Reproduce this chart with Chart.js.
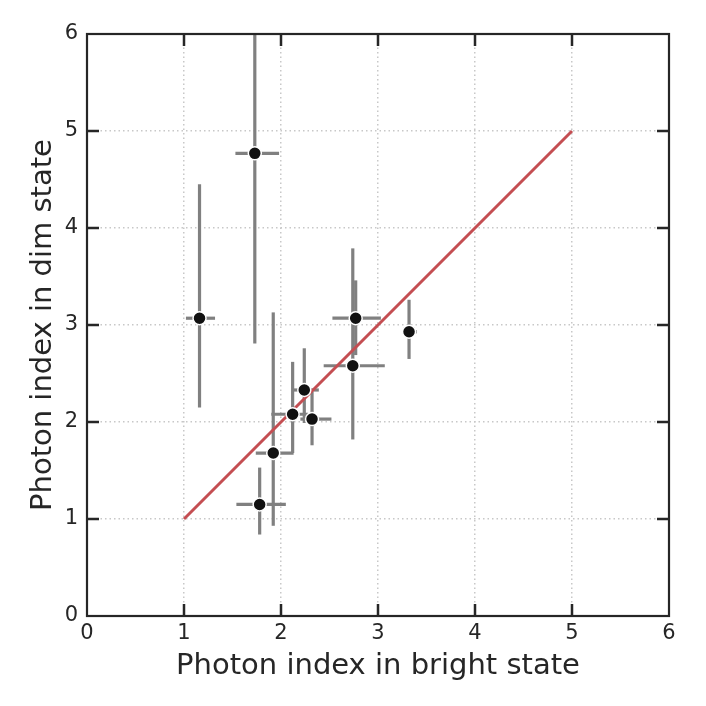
<!DOCTYPE html>
<html>
<head>
<meta charset="utf-8">
<script src="https://cdn.jsdelivr.net/npm/chart.js@4.4.1/dist/chart.umd.min.js"></script>
<style>
  html, body { margin: 0; padding: 0; background: #fff; }
</style>
</head>
<body>
<canvas id="c" width="706" height="706"></canvas>
<script>
// photon index values
const brightIdx = [1.16, 1.73, 1.78, 1.92, 2.12, 2.24, 2.32, 2.74, 2.77, 3.32];
const dimIdx    = [3.07, 4.77, 1.15, 1.68, 2.08, 2.33, 2.03, 2.58, 3.07, 2.93];
const brightLo  = [1.02, 1.53, 1.54, 1.74, 1.90, 2.12, 2.20, 2.44, 2.53, 3.28];
const brightHi  = [1.32, 1.98, 2.05, 2.13, 2.28, 2.39, 2.52, 3.07, 3.03, 3.40];
const dimLo     = [2.15, 2.81, 0.84, 0.93, 1.68, 1.99, 1.76, 1.82, 2.69, 2.65];
const dimHi     = [4.45, 6.30, 1.53, 3.13, 2.62, 2.76, 2.31, 3.79, 3.46, 3.26];
const equalLine = [1, 5];
const axisTicks = [0, 1, 2, 3, 4, 5, 6];

const FONT = "'DejaVu Sans', sans-serif";
const INK = "#262626";
const BAR = "#808080";
const RED = "#C44E52";

// inward ticks on all four sides + the box frame
const frameTicks = {
  id: "frameTicks",
  afterDraw(chart) {
    const { ctx, chartArea: a, scales: { x, y } } = chart;
    const len = 12;
    ctx.save();
    ctx.strokeStyle = INK;
    ctx.lineWidth = 2.5;
    ctx.beginPath();
    axisTicks.slice(1, -1).forEach(v => {
      const px = x.getPixelForValue(v);
      ctx.moveTo(px, a.bottom); ctx.lineTo(px, a.bottom - len);
      ctx.moveTo(px, a.top); ctx.lineTo(px, a.top + len);
      const py = y.getPixelForValue(v);
      ctx.moveTo(a.left, py); ctx.lineTo(a.left + len, py);
      ctx.moveTo(a.right, py); ctx.lineTo(a.right - len, py);
    });
    ctx.stroke();
    ctx.lineWidth = 2.2;
    ctx.strokeRect(a.left, a.top, a.right - a.left, a.bottom - a.top);
    ctx.restore();
  }
};

const barStyle = {
  type: "line", showLine: true, borderColor: BAR, borderWidth: 3.2,
  pointRadius: 0, fill: false, order: 3, clip: 0, borderCapStyle: "butt",
};

const errorSets = [];
brightIdx.forEach((bx, i) => {
  errorSets.push({ ...barStyle, data: [{ x: brightLo[i], y: dimIdx[i] }, { x: brightHi[i], y: dimIdx[i] }] });
  errorSets.push({ ...barStyle, data: [{ x: bx, y: dimLo[i] }, { x: bx, y: dimHi[i] }] });
});

new Chart(document.getElementById("c"), {
  type: "scatter",
  data: {
    datasets: [
      {
        data: brightIdx.map((bx, i) => ({ x: bx, y: dimIdx[i] })),
        backgroundColor: "#111111", borderColor: "#ffffff", borderWidth: 1.5,
        pointRadius: 6.5, order: 1,
      },
      {
        type: "line", showLine: true,
        data: equalLine.map(v => ({ x: v, y: v })),
        borderColor: RED, borderWidth: 3, pointRadius: 0, order: 2,
      },
      ...errorSets,
    ],
  },
  options: {
    responsive: false,
    animation: false,
    layout: { padding: { left: 26, top: 34, right: 37, bottom: 22 } },
    plugins: { legend: { display: false }, tooltip: { enabled: false } },
    scales: {
      x: {
        type: "linear", min: 0, max: 6,
        afterBuildTicks: s => { s.ticks = axisTicks.map(v => ({ value: v })); },
        afterFit: s => { s.height = 68; },
        grid: { color: "#c8c8c8", lineWidth: 1.5, drawTicks: false },
        border: { display: false, dash: [1.5, 3] },
        ticks: { color: INK, font: { family: FONT, size: 21 }, padding: 5 },
        title: { display: true, text: "Photon index in bright state", color: INK, font: { family: FONT, size: 29 }, padding: 0 },
      },
      y: {
        type: "linear", min: 0, max: 6,
        afterBuildTicks: s => { s.ticks = axisTicks.map(v => ({ value: v })); },
        afterFit: s => { s.width = 61; },
        grid: { color: "#c8c8c8", lineWidth: 1.5, drawTicks: false },
        border: { display: false, dash: [1.5, 3] },
        ticks: { color: INK, font: { family: FONT, size: 21 }, padding: 9 },
        title: { display: true, text: "Photon index in dim state", color: INK, font: { family: FONT, size: 29 }, padding: 0 },
      },
    },
  },
  plugins: [frameTicks],
});
</script>
</body>
</html>
